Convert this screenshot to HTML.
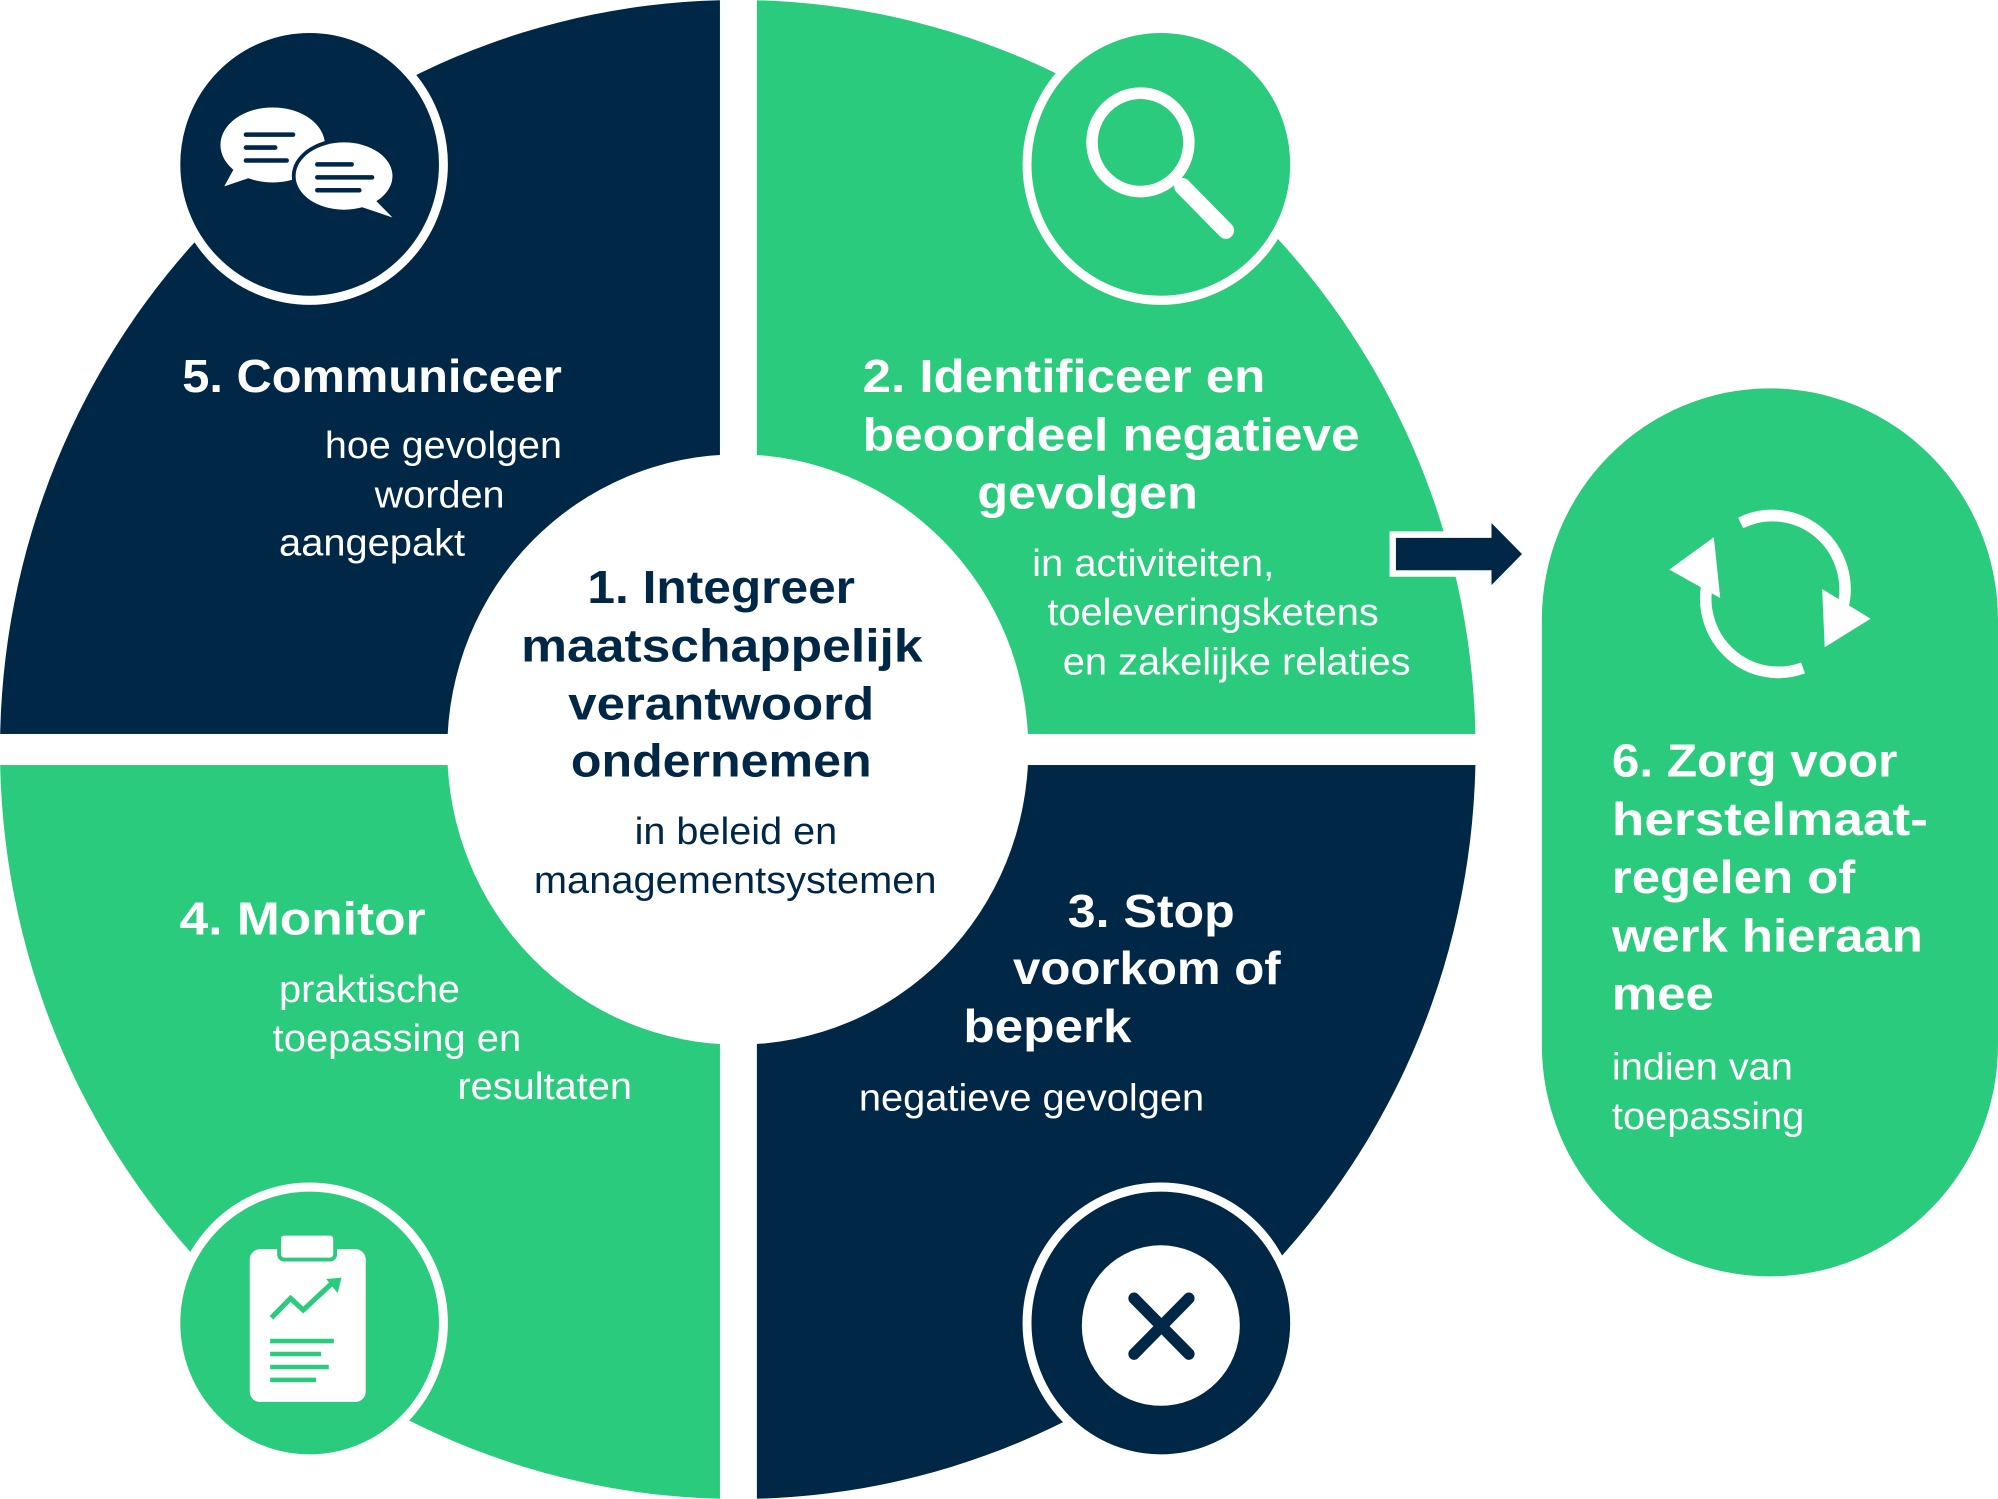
<!DOCTYPE html>
<html><head><meta charset="utf-8"><style>
html,body{margin:0;padding:0;background:#fff;}
svg{display:block;}
text{font-family:"Liberation Sans",sans-serif;}
.h{font-weight:bold;font-size:36px;}
.b{font-size:29px;}
</style></head><body>
<svg width="1998" height="1499" viewBox="0 0 1568 1158" preserveAspectRatio="none" xmlns="http://www.w3.org/2000/svg">
<rect width="1568" height="1158" fill="#fff"/>
<path d="M579,579 L0,579 A579,579 0 0 1 579,0 Z" fill="#012747"/>
<path d="M579,579 L579,0 A579,579 0 0 1 1158,579 Z" fill="#2bcb7d"/>
<path d="M579,579 L1158,579 A579,579 0 0 1 579,1158 Z" fill="#012747"/>
<path d="M579,579 L579,1158 A579,579 0 0 1 0,579 Z" fill="#2bcb7d"/>
<rect x="565" y="0" width="29" height="1158" fill="#fff"/>
<rect x="0" y="567" width="1160" height="24" fill="#fff"/>
<circle cx="579" cy="579" r="228" fill="#fff"/>
<circle cx="243" cy="127" r="105" fill="#012747" stroke="#fff" stroke-width="7"/>
<circle cx="911" cy="127" r="105" fill="#2bcb7d" stroke="#fff" stroke-width="7"/>
<circle cx="243" cy="1022" r="105" fill="#2bcb7d" stroke="#fff" stroke-width="7"/>
<circle cx="911" cy="1022" r="105" fill="#012747" stroke="#fff" stroke-width="7"/>
<ellipse cx="214" cy="112" rx="41" ry="29" fill="#fff"/>
<path d="M186,126 L176,144 L200,136 Z" fill="#fff"/>
<ellipse cx="270" cy="136" rx="41" ry="29" fill="#012747"/>
<ellipse cx="270" cy="136" rx="38" ry="26" fill="#fff"/>
<path d="M290,150 L308,168 L284,160 Z" fill="#fff"/>
<g stroke="#012747" stroke-width="3.5" stroke-linecap="round">
<line x1="193" y1="104" x2="230" y2="104"/><line x1="193" y1="114" x2="216" y2="114"/><line x1="193" y1="124" x2="225" y2="124"/>
<line x1="249" y1="127" x2="276" y2="127"/><line x1="249" y1="137" x2="292" y2="137"/><line x1="249" y1="147" x2="282" y2="147"/>
</g>
<circle cx="895" cy="110" r="38" fill="none" stroke="#fff" stroke-width="9"/>
<line x1="928" y1="144" x2="962" y2="178" stroke="#fff" stroke-width="13" stroke-linecap="round"/>
<rect x="196" y="965" width="91" height="118" rx="8" fill="#fff"/>
<rect x="219" y="953" width="44" height="20" rx="4" fill="#fff" stroke="#2bcb7d" stroke-width="3"/>
<polyline points="213,1018 228,1003 238,1012 262,990" fill="none" stroke="#2bcb7d" stroke-width="4"/>
<path d="M256,988 L268,987 L265,999 Z" fill="#2bcb7d"/>
<g stroke="#2bcb7d" stroke-width="3.5"><line x1="212" y1="1036" x2="262" y2="1036"/><line x1="212" y1="1046" x2="252" y2="1046"/><line x1="212" y1="1056" x2="258" y2="1056"/><line x1="212" y1="1066" x2="248" y2="1066"/></g>
<circle cx="911" cy="1024" r="62" fill="#fff"/>
<g stroke="#012747" stroke-width="9" stroke-linecap="round"><line x1="890" y1="1003" x2="933" y2="1046"/><line x1="933" y1="1003" x2="890" y2="1046"/></g>
<path d="M1093,413 L1168,413 L1168,398 L1198,428 L1168,458 L1168,443 L1093,443 Z" fill="#012747" stroke="#fff" stroke-width="5"/>
<rect x="1210" y="300" width="358" height="686" rx="179" fill="#2bcb7d"/>
<path d="M1340,450 A57,57 0 0 0 1415,516" fill="none" stroke="#fff" stroke-width="9"/>
<path d="M1366,404 A57,57 0 0 1 1446,470" fill="none" stroke="#fff" stroke-width="9"/>
<path d="M1310,440 L1345,415 L1350,462 Z" fill="#fff"/>
<path d="M1468,478 L1432,500 L1430,455 Z" fill="#fff"/>
<g fill="#fff">
<text class="h" x="143" y="303" textLength="298" lengthAdjust="spacingAndGlyphs">5. Communiceer</text>
<text class="b" x="255" y="354" textLength="186" lengthAdjust="spacingAndGlyphs">hoe gevolgen</text>
<text class="b" x="294" y="392" textLength="102" lengthAdjust="spacingAndGlyphs">worden</text>
<text class="b" x="219" y="429" textLength="146" lengthAdjust="spacingAndGlyphs">aangepakt</text>
<text class="h" x="677" y="303" textLength="316" lengthAdjust="spacingAndGlyphs">2. Identificeer en</text>
<text class="h" x="677" y="348" textLength="390" lengthAdjust="spacingAndGlyphs">beoordeel negatieve</text>
<text class="h" x="767" y="393" textLength="173" lengthAdjust="spacingAndGlyphs">gevolgen</text>
<text class="b" x="810" y="445" textLength="190" lengthAdjust="spacingAndGlyphs">in activiteiten,</text>
<text class="b" x="822" y="483" textLength="260" lengthAdjust="spacingAndGlyphs">toeleveringsketens</text>
<text class="b" x="834" y="521" textLength="273" lengthAdjust="spacingAndGlyphs">en zakelijke relaties</text>
<text class="h" x="141" y="722" textLength="193" lengthAdjust="spacingAndGlyphs">4. Monitor</text>
<text class="b" x="219" y="774" textLength="142" lengthAdjust="spacingAndGlyphs">praktische</text>
<text class="b" x="214" y="812" textLength="195" lengthAdjust="spacingAndGlyphs">toepassing en</text>
<text class="b" x="359" y="849" textLength="137" lengthAdjust="spacingAndGlyphs">resultaten</text>
<text class="h" x="838" y="716" textLength="131" lengthAdjust="spacingAndGlyphs">3. Stop</text>
<text class="h" x="795" y="760" textLength="210" lengthAdjust="spacingAndGlyphs">voorkom of</text>
<text class="h" x="756" y="805" textLength="132" lengthAdjust="spacingAndGlyphs">beperk</text>
<text class="b" x="674" y="858" textLength="271" lengthAdjust="spacingAndGlyphs">negatieve gevolgen</text>
<text class="h" x="1265" y="600" textLength="224" lengthAdjust="spacingAndGlyphs">6. Zorg voor</text>
<text class="h" x="1265" y="645" textLength="248" lengthAdjust="spacingAndGlyphs">herstelmaat-</text>
<text class="h" x="1265" y="690" textLength="191" lengthAdjust="spacingAndGlyphs">regelen of</text>
<text class="h" x="1265" y="735" textLength="244" lengthAdjust="spacingAndGlyphs">werk hieraan</text>
<text class="h" x="1265" y="780" textLength="80" lengthAdjust="spacingAndGlyphs">mee</text>
<text class="b" x="1265" y="834" textLength="142" lengthAdjust="spacingAndGlyphs">indien van</text>
<text class="b" x="1265" y="872" textLength="151" lengthAdjust="spacingAndGlyphs">toepassing</text>
</g>
<g fill="#012747">
<text class="h" x="461" y="466" textLength="210" lengthAdjust="spacingAndGlyphs">1. Integreer</text>
<text class="h" x="409" y="511" textLength="315" lengthAdjust="spacingAndGlyphs">maatschappelijk</text>
<text class="h" x="446" y="556" textLength="240" lengthAdjust="spacingAndGlyphs">verantwoord</text>
<text class="h" x="448" y="600" textLength="236" lengthAdjust="spacingAndGlyphs">ondernemen</text>
<text class="b" x="498" y="652" textLength="159" lengthAdjust="spacingAndGlyphs">in beleid en</text>
<text class="b" x="419" y="690" textLength="316" lengthAdjust="spacingAndGlyphs">managementsystemen</text>
</g>
</svg>
</body></html>
